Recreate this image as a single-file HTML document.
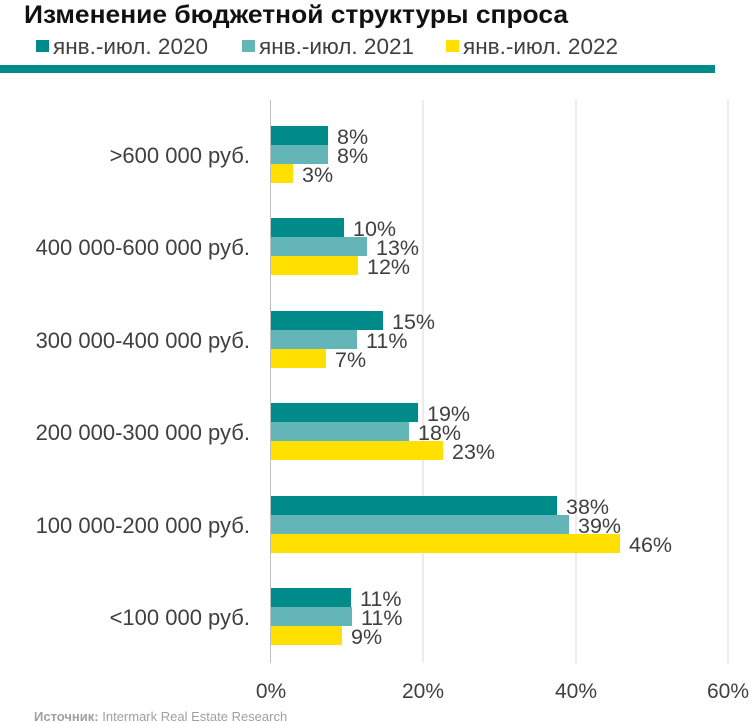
<!DOCTYPE html>
<html><head><meta charset="utf-8"><style>
body{margin:0;background:#fff;}
svg{display:block;font-family:"Liberation Sans",Arial,sans-serif;}
</style></head><body>
<svg width="750" height="723" viewBox="0 0 750 723" xmlns="http://www.w3.org/2000/svg">
<text x="24" y="23" font-size="25" font-weight="bold" fill="#111" textLength="544" lengthAdjust="spacingAndGlyphs">Изменение бюджетной структуры спроса</text>
<rect x="36" y="40" width="13" height="12" fill="#008b8b"/>
<text x="53" y="54" font-size="22" fill="#404040" textLength="155" lengthAdjust="spacingAndGlyphs">янв.-июл. 2020</text>
<rect x="242" y="40" width="13" height="12" fill="#64b5b8"/>
<text x="259" y="54" font-size="22" fill="#404040" textLength="155" lengthAdjust="spacingAndGlyphs">янв.-июл. 2021</text>
<rect x="446" y="40" width="13" height="12" fill="#ffe000"/>
<text x="463" y="54" font-size="22" fill="#404040" textLength="155" lengthAdjust="spacingAndGlyphs">янв.-июл. 2022</text>
<rect x="0" y="65" width="715" height="8" fill="#008b8b"/>
<g stroke="#d9d9d9" stroke-width="1">
<line x1="423" y1="100" x2="423" y2="663"/>
<line x1="576" y1="100" x2="576" y2="663"/>
<line x1="728" y1="100" x2="728" y2="663"/>
</g>
<line x1="270.5" y1="100" x2="270.5" y2="663" stroke="#bfbfbf"/>
<g font-size="22" fill="#404040" text-anchor="end">
<text x="250" y="163">&gt;600 000 руб.</text>
<text x="250" y="255">400 000-600 000 руб.</text>
<text x="250" y="348">300 000-400 000 руб.</text>
<text x="250" y="440">200 000-300 000 руб.</text>
<text x="250" y="533">100 000-200 000 руб.</text>
<text x="250" y="625">&lt;100 000 руб.</text>
</g>
<g>
<rect x="271" y="126" width="57" height="19" fill="#008b8b"/>
<rect x="271" y="145" width="57" height="19" fill="#64b5b8"/>
<rect x="271" y="164" width="22" height="19" fill="#ffe000"/>
<rect x="271" y="218" width="73" height="19" fill="#008b8b"/>
<rect x="271" y="237" width="96" height="19" fill="#64b5b8"/>
<rect x="271" y="256" width="87" height="19" fill="#ffe000"/>
<rect x="271" y="311" width="112" height="19" fill="#008b8b"/>
<rect x="271" y="330" width="86" height="19" fill="#64b5b8"/>
<rect x="271" y="349" width="55" height="19" fill="#ffe000"/>
<rect x="271" y="403" width="147" height="19" fill="#008b8b"/>
<rect x="271" y="422" width="138" height="19" fill="#64b5b8"/>
<rect x="271" y="441" width="172" height="19" fill="#ffe000"/>
<rect x="271" y="496" width="286" height="19" fill="#008b8b"/>
<rect x="271" y="515" width="298" height="19" fill="#64b5b8"/>
<rect x="271" y="534" width="349" height="19" fill="#ffe000"/>
<rect x="271" y="588" width="80" height="19" fill="#008b8b"/>
<rect x="271" y="607" width="81" height="19" fill="#64b5b8"/>
<rect x="271" y="626" width="71" height="19" fill="#ffe000"/>
</g>
<g font-size="21.5" fill="#404040">
<text x="337" y="144">8%</text><text x="337" y="163">8%</text><text x="302" y="182">3%</text>
<text x="353" y="236">10%</text><text x="376" y="255">13%</text><text x="367" y="274">12%</text>
<text x="392" y="329">15%</text><text x="366" y="348">11%</text><text x="335" y="367">7%</text>
<text x="427" y="421">19%</text><text x="418" y="440">18%</text><text x="452" y="459">23%</text>
<text x="566" y="514">38%</text><text x="578" y="533">39%</text><text x="629" y="552">46%</text>
<text x="360" y="606">11%</text><text x="361" y="625">11%</text><text x="351" y="644">9%</text>
</g>
<g font-size="21" fill="#404040" text-anchor="middle">
<text x="271" y="698">0%</text><text x="423" y="698">20%</text><text x="576" y="698">40%</text><text x="728" y="698">60%</text>
</g>
<text x="34" y="721" font-size="13" fill="#a0a0a0"><tspan font-weight="bold">Источник:</tspan> Intermark Real Estate Research</text>
</svg>
</body></html>
